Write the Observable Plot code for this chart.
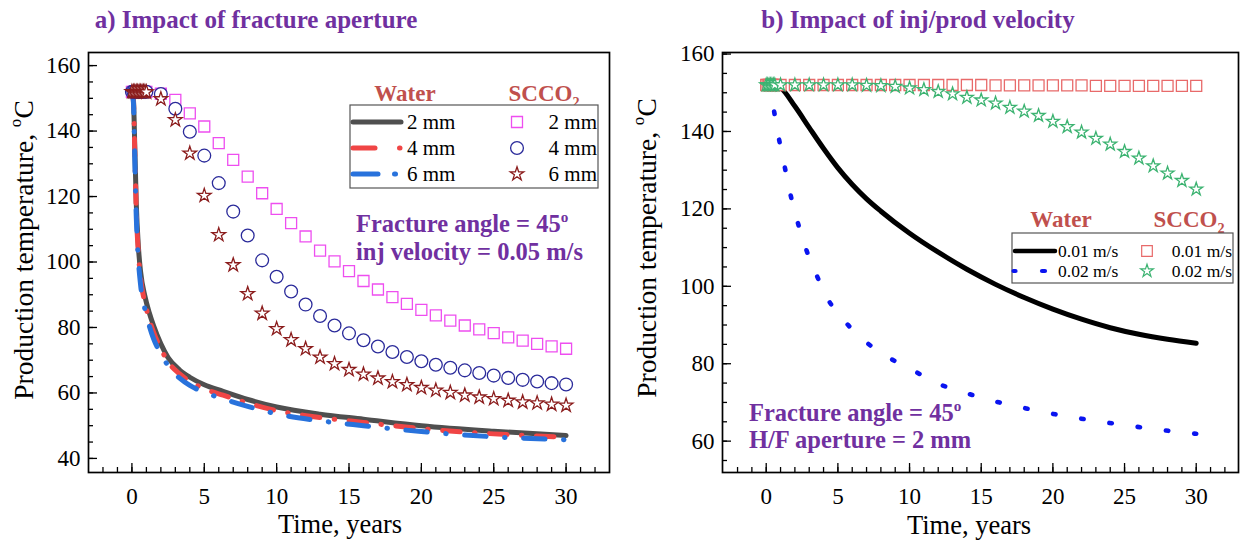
<!DOCTYPE html>
<html>
<head>
<meta charset="utf-8">
<script src="https://cdn.jsdelivr.net/npm/d3@7"></script>
<script src="https://cdn.jsdelivr.net/npm/@observablehq/plot@0.6"></script>
<style>
  body { margin: 0; background: #fff; }
  #fig { position: relative; width: 1243px; height: 543px; overflow: hidden; background: #fff; }
</style>
</head>
<body>
<div id="fig"></div>
<script>
// ---------- Panel a: impact of fracture aperture (inj velocity 0.05 m/s) ----------
const waterTimeA = [0, 0.1, 0.2, 0.3, 0.45, 0.6, 0.9, 1.2, 1.5, 2, 2.5, 3.3, 4, 5, 6.3, 8, 10, 13, 16, 20, 25, 30];
const water2mm = [152, 150, 135, 118, 104.5, 97, 89.5, 84.5, 80.5, 75, 70.8, 67, 64.8, 62.5, 60.5, 58, 55.7, 53.5, 52, 50, 48.3, 47];
const water4mm = [152, 149.5, 133, 116, 102.5, 95, 87.5, 82.5, 78.5, 73.5, 69.5, 65.8, 63.5, 61.3, 59.3, 56.9, 54.6, 52.5, 51, 49.1, 47.5, 46.5];
const water6mm = [152, 149, 131, 114, 100.5, 93, 85.5, 80.5, 76.5, 72, 68.3, 64.5, 62.3, 60.2, 58.2, 55.9, 53.6, 51.5, 50, 48.2, 46.6, 45.7];

const scco2TimeA = [0, 0.1, 0.2, 0.3, 0.4, 0.5, 0.6, 0.7, 0.8, 0.9,
  1, 2, 3, 4, 5, 6, 7, 8, 9, 10, 11, 12, 13, 14, 15, 16, 17, 18, 19, 20,
  21, 22, 23, 24, 25, 26, 27, 28, 29, 30];
const scco2_2mm = [152, 152, 152, 152, 152, 152, 152, 152, 152, 152,
  152, 151.4, 149.5, 145.4, 141.4, 136.3, 131.2, 126.1, 121.0, 116.2, 111.9, 107.8, 103.5, 100.2, 97.2, 94.2, 91.6, 89.3, 87.2, 85.4,
  83.7, 82.1, 80.6, 79.4, 78.3, 77.0, 76.0, 75.0, 74.2, 73.5];
const scco2_4mm = [152, 152, 152, 152, 152, 152, 152, 152, 152, 152,
  152, 151.3, 146.8, 139.8, 132.5, 124.1, 115.4, 108.1, 100.5, 95.5, 91.0, 87.0, 83.5, 80.6, 78.2, 76.1, 74.2, 72.5, 71.0, 69.7,
  68.6, 67.7, 66.9, 66.1, 65.3, 64.6, 64.0, 63.5, 63.0, 62.6];
const scco2_6mm = [152, 152, 152, 152, 152, 152, 152, 152, 152, 152,
  151.9, 149.8, 143.4, 133.2, 120.3, 108.3, 99.1, 90.3, 84.3, 79.6, 76.2, 73.5, 70.9, 68.9, 67.1, 65.7, 64.5, 63.4, 62.5, 61.6,
  60.8, 60.1, 59.3, 58.7, 58.2, 57.7, 57.2, 56.9, 56.5, 56.2];

// ---------- Panel b: impact of inj/prod velocity (H/F aperture 2 mm) ----------
const waterTime001 = [0, 0.5, 1, 2, 3, 4, 5, 6, 7, 8, 10, 12, 14, 16, 18, 20, 22, 24, 26, 28, 30];
const water001 = [152, 152, 151.3, 146.5, 141, 135.6, 130.6, 126.3, 122.6, 119.4, 113.7, 108.8, 104.4, 100.5, 97.1, 94.1, 91.5, 89.3, 87.6, 86.3, 85.3];
const waterTime002 = [0, 0.3, 0.55, 0.9, 1.3, 1.7, 2.2, 2.8, 3.5, 4.3, 5.4, 6.8, 8.4, 10.1, 11.9, 13.8, 15.6, 17.6, 19.5, 21.5, 23.4, 25.3, 27.3, 29.2, 30];
const water002 = [152, 150.5, 145.2, 137.9, 130.7, 123.6, 116.5, 109.4, 103.0, 96.7, 91.3, 86.1, 81.9, 78.6, 75.0, 72.6, 70.6, 68.9, 67.4, 66.1, 65.0, 64.0, 63.0, 62.2, 61.9];

const scco2TimeB = [0, 0.1, 0.2, 0.3, 0.4, 0.5, 0.6,
  1, 2, 3, 4, 5, 6, 7, 8, 9, 10, 11, 12, 13, 14, 15, 16, 17, 18, 19, 20,
  21, 22, 23, 24, 25, 26, 27, 28, 29, 30];
const scco2_001 = [152, 152, 152, 152, 152, 152, 152,
  152, 152, 152, 152, 152, 152, 152, 152, 152, 152, 152, 152, 152, 152, 152, 151.9, 151.9, 151.9, 151.9, 151.9,
  151.9, 151.9, 151.8, 151.8, 151.8, 151.8, 151.8, 151.8, 151.8, 151.8];
const scco2_002 = [152, 152, 152, 152, 152, 152, 152,
  152, 152, 152, 152, 152, 152, 151.9, 151.8, 151.6, 151.2, 150.8, 150.3, 149.7, 148.8, 148.1, 147.3, 146.2, 145.2, 144.1, 142.6,
  141.2, 139.8, 138.2, 136.7, 134.8, 133.1, 131.1, 129.2, 127.3, 125.1];

// ---------- axis ticks ----------
const xMajor = [0, 5, 10, 15, 20, 25, 30];
const xMinor = [-2, -1, 0, 1, 2, 3, 4, 5, 6, 7, 8, 9, 10, 11, 12, 13, 14, 15, 16, 17, 18, 19, 20, 21, 22, 23, 24, 25, 26, 27, 28, 29, 30, 31, 32];
const yMajorA = [40, 60, 80, 100, 120, 140, 160];
const yMinorA = [40, 45, 50, 55, 60, 65, 70, 75, 80, 85, 90, 95, 100, 105, 110, 115, 120, 125, 130, 135, 140, 145, 150, 155, 160];
const yMajorB = [60, 80, 100, 120, 140, 160];
const yMinorB = [55, 60, 65, 70, 75, 80, 85, 90, 95, 100, 105, 110, 115, 120, 125, 130, 135, 140, 145, 150, 155, 160];

// ---------- styling ----------
const FONT = "'Liberation Serif', 'Times New Roman', serif";
const PURPLE = "#7030a0";
const HEAD = "#c0504d";
const H = 543;
const fig = document.getElementById("fig");

const C = {
  w2: "#4f4f4f", w4: "#f04545", w6: "#2872dc",
  s2: "#ee4ef0", s4: "#2a2a9a", s6: "#8b1c1c",
  w001: "#000000", w002: "#0a14f0",
  s001: "#e86a6a", s002: "#3cb371"
};
const DASH4 = "17.5,14.5,0.5,14.5";
const DASH6 = "21.5,18.5,0.5,18.5";
const DOTS = "2.4,26.1";

// text with sub/superscript parts
function richText(g, x, y, parts, {size, weight = "normal", fill = "black", anchor = "start", transform = null}) {
  const el = g.append("text").attr("x", x).attr("y", y)
    .attr("font-family", FONT).attr("font-size", size).attr("font-weight", weight)
    .attr("fill", fill).attr("text-anchor", anchor);
  if (transform) el.attr("transform", transform);
  let shift = 0;
  for (const p of parts) {
    const [str, kind] = Array.isArray(p) ? p : [p, null];
    const target = kind === "sup" ? -0.42 * size : kind === "sub" ? 0.25 * size : 0;
    const ts = el.append("tspan").text(str).attr("dy", target - shift);
    if (kind) ts.attr("font-size", size * 0.62);
    shift = target;
  }
  return el;
}

function symbolPath(type, r) {
  const s = {square: d3.symbolSquare, circle: d3.symbolCircle, star: d3.symbolStar}[type];
  return d3.symbol(s, Math.PI * r * r)();
}

function panel({left, width, marginLeft, marginRight, xDomain, yDomain, yMajor, yMinor, marks}) {
  const marginTop = 52, marginBottom = 71;
  const fw = width - marginLeft - marginRight;
  const fh = H - marginTop - marginBottom;
  const svg = Plot.plot({
    width, height: H, marginLeft, marginRight, marginTop, marginBottom,
    x: {domain: xDomain},
    y: {domain: yDomain},
    style: {fontFamily: FONT, fontSize: "23px", color: "black", background: "transparent", overflow: "visible"},
    marks: [
      ...marks,
      Plot.tickX(xMinor, {x: d => d, insetTop: fh - 5, strokeWidth: 1.3}),
      Plot.tickX(xMajor, {x: d => d, insetTop: fh - 9, strokeWidth: 1.3}),
      Plot.tickY(yMinor, {y: d => d, insetRight: fw - 5, strokeWidth: 1.3}),
      Plot.tickY(yMajor, {y: d => d, insetRight: fw - 9, strokeWidth: 1.3}),
      Plot.axisX(xMajor, {tickSize: 0, tickPadding: 15, label: null}),
      Plot.axisY(yMajor, {tickSize: 0, tickPadding: 8, label: null}),
      Plot.frame({stroke: "black", strokeWidth: 1.7})
    ]
  });
  svg.style.position = "absolute";
  svg.style.left = left + "px";
  svg.style.top = "0px";
  fig.appendChild(svg);
  return d3.select(svg);
}

const markerStyle = (stroke, symbol, r) => ({stroke, symbol, r, fill: "white", strokeWidth: 1.3});

// ===== Panel a =====
const svgA = panel({
  left: 0, width: 620, marginLeft: 88, marginRight: 11,
  xDomain: [-3, 33], yDomain: [35.7, 164], yMajor: yMajorA, yMinor: yMinorA,
  marks: [
    Plot.lineY(water2mm, {x: waterTimeA, stroke: C.w2, strokeWidth: 5, curve: "monotone-x", strokeLinecap: "round"}),
    Plot.lineY(water4mm, {x: waterTimeA, stroke: C.w4, strokeWidth: 5, curve: "monotone-x", strokeLinecap: "round", strokeDasharray: DASH4}),
    Plot.lineY(water6mm, {x: waterTimeA, stroke: C.w6, strokeWidth: 5, curve: "monotone-x", strokeLinecap: "round", strokeDasharray: DASH6}),
    Plot.dot(scco2_2mm, {x: scco2TimeA, y: d => d, ...markerStyle(C.s2, "square", 6.2)}),
    Plot.dot(scco2_4mm, {x: scco2TimeA, y: d => d, ...markerStyle(C.s4, "circle", 6.4)}),
    Plot.dot(scco2_6mm, {x: scco2TimeA, y: d => d, ...markerStyle(C.s6, "star", 4.3)})
  ]
});

richText(svgA, 256, 28, ["a) Impact of fracture aperture"], {size: 25, weight: "bold", fill: PURPLE, anchor: "middle"});
richText(svgA, 0, 0, ["Production temperature, ", ["o", "sup"], "C"], {size: 27.5, anchor: "middle", transform: "translate(33,250) rotate(-90)"});
richText(svgA, 340, 533, ["Time, years"], {size: 26.5, anchor: "middle"});
richText(svgA, 356, 232, ["Fracture angle = 45", ["o", "sup"]], {size: 24.5, weight: "bold", fill: PURPLE});
richText(svgA, 356, 260, ["inj velocity = 0.05 m/s"], {size: 24.5, weight: "bold", fill: PURPLE});

// legend a
{
  const g = svgA.append("g");
  richText(g, 405, 101, ["Water"], {size: 23, weight: "bold", fill: HEAD, anchor: "middle"});
  richText(g, 544, 101, ["SCCO", ["2", "sub"]], {size: 23, weight: "bold", fill: HEAD, anchor: "middle"});
  g.append("rect").attr("x", 350).attr("y", 105).attr("width", 248).attr("height", 83)
    .attr("fill", "white").attr("stroke", "#555").attr("stroke-width", 1.2);
  const rows = [122, 148, 174];
  const seg = (x1, x2, y, color) => g.append("line").attr("x1", x1).attr("x2", x2).attr("y1", y).attr("y2", y)
    .attr("stroke", color).attr("stroke-width", 5).attr("stroke-linecap", "round");
  seg(353, 401, rows[0], C.w2);
  seg(353, 375, rows[1], C.w4); seg(399.5, 400, rows[1], C.w4);
  seg(353, 378, rows[2], C.w6); seg(394.5, 395.5, rows[2], C.w6);
  const labels = ["2 mm", "4 mm", "6 mm"];
  const mk = [["square", 6.2, C.s2], ["circle", 6.4, C.s4], ["star", 4.3, C.s6]];
  rows.forEach((y, i) => {
    richText(g, 407, y + 7, [labels[i]], {size: 21});
    g.append("path").attr("d", symbolPath(mk[i][0], mk[i][1])).attr("transform", `translate(517,${y})`)
      .attr("fill", "white").attr("stroke", mk[i][2]).attr("stroke-width", 1.3);
    richText(g, 597, y + 7, [labels[i]], {size: 21, anchor: "end"});
  });
}

// ===== Panel b =====
const svgB = panel({
  left: 620, width: 623, marginLeft: 102, marginRight: 5,
  xDomain: [-3.05, 32.95], yDomain: [51.9, 160.4], yMajor: yMajorB, yMinor: yMinorB,
  marks: [
    Plot.lineY(water001, {x: waterTime001, stroke: C.w001, strokeWidth: 5, curve: "monotone-x", strokeLinecap: "round"}),
    Plot.lineY(water002, {x: waterTime002, stroke: C.w002, strokeWidth: 4.6, curve: "monotone-x", strokeLinecap: "round", strokeDasharray: DOTS}),
    Plot.dot(scco2_001, {x: scco2TimeB, y: d => d, ...markerStyle(C.s001, "square", 6.2)}),
    Plot.dot(scco2_002, {x: scco2TimeB, y: d => d, ...markerStyle(C.s002, "star", 4.1)})
  ]
});

richText(svgB, 298, 28, ["b) Impact of inj/prod velocity"], {size: 25, weight: "bold", fill: PURPLE, anchor: "middle"});
richText(svgB, 0, 0, ["Production temperature, ", ["o", "sup"], "C"], {size: 27.5, anchor: "middle", transform: "translate(36,248) rotate(-90)"});
richText(svgB, 349, 534, ["Time, years"], {size: 26.5, anchor: "middle"});
richText(svgB, 129, 421, ["Fracture angle = 45", ["o", "sup"]], {size: 24.5, weight: "bold", fill: PURPLE});
richText(svgB, 129, 448, ["H/F aperture = 2 mm"], {size: 24.5, weight: "bold", fill: PURPLE});

// legend b
{
  const g = svgB.append("g");
  richText(g, 441, 227, ["Water"], {size: 23, weight: "bold", fill: HEAD, anchor: "middle"});
  richText(g, 569, 227, ["SCCO", ["2", "sub"]], {size: 23, weight: "bold", fill: HEAD, anchor: "middle"});
  g.append("rect").attr("x", 392).attr("y", 233).attr("width", 221).attr("height", 50)
    .attr("fill", "white").attr("stroke", "#555").attr("stroke-width", 1.2);
  const rows = [251, 271];
  const seg = (x1, x2, y, color, w) => g.append("line").attr("x1", x1).attr("x2", x2).attr("y1", y).attr("y2", y)
    .attr("stroke", color).attr("stroke-width", w).attr("stroke-linecap", "round");
  seg(395, 435, rows[0], C.w001, 4.5);
  seg(393.5, 395.5, rows[1], C.w002, 4.2); seg(422, 425, rows[1], C.w002, 4.2);
  const labels = ["0.01 m/s", "0.02 m/s"];
  const mk = [["square", 6.0, C.s001], ["star", 4.0, C.s002]];
  rows.forEach((y, i) => {
    richText(g, 438, y + 6, [labels[i]], {size: 17.5});
    g.append("path").attr("d", symbolPath(mk[i][0], mk[i][1])).attr("transform", `translate(527,${y})`)
      .attr("fill", "white").attr("stroke", mk[i][2]).attr("stroke-width", 1.2);
    richText(g, 612, y + 6, [labels[i]], {size: 17.5, anchor: "end"});
  });
}
</script>
</body>
</html>
